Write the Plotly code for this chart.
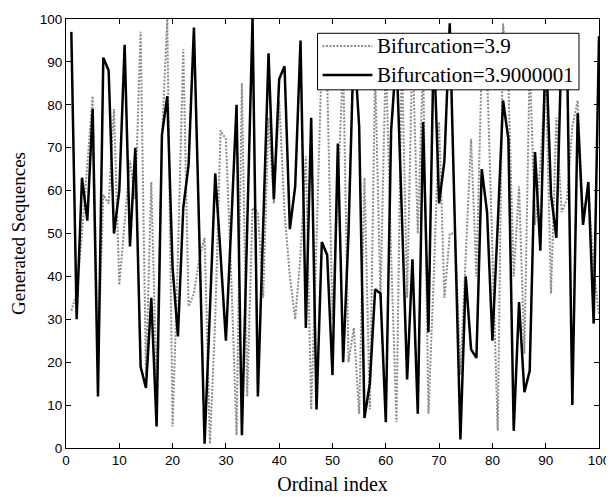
import plotly.graph_objects as go

ordinal = list(range(1, 101))

seq_39 = [32, 36, 50, 66, 82, 20, 59, 57, 79, 38,
          52, 67, 58, 97, 17, 62, 14, 72, 100, 5,
          45, 93, 33, 36, 44, 49, 1, 30, 74, 72,
          40, 3, 85, 12, 56, 55, 35, 77, 57, 81,
          55, 40, 30, 45, 68, 9, 48, 92, 86, 30,
          60, 90, 20, 28, 8, 63, 9, 88, 35, 92,
          45, 6, 92, 35, 94, 50, 90, 8, 40, 76,
          35, 50, 50, 17, 45, 72, 40, 90, 88, 45,
          4, 99, 85, 40, 61, 22, 90, 52, 66, 88,
          36, 77, 55, 58, 75, 81, 54, 60, 42, 31]

seq_39000001 = [97, 30, 63, 53, 79, 12, 91, 88, 50, 60,
                94, 47, 70, 19, 14, 35, 5, 73, 82, 42,
                26, 56, 66, 98, 50, 1, 32, 64, 45, 25,
                52, 80, 3, 50, 100, 12, 52, 92, 58, 86,
                89, 51, 61, 95, 28, 77, 9, 48, 45, 17,
                71, 20, 50, 95, 75, 7, 15, 37, 36, 6,
                74, 92, 55, 16, 44, 8, 76, 27, 95, 57,
                67, 99, 50, 2, 40, 23, 21, 65, 55, 25,
                52, 81, 72, 4, 34, 13, 18, 69, 46, 95,
                59, 49, 95, 92, 10, 78, 52, 62, 29, 96]

series_names = ["Bifurcation=3.9", "Bifurcation=3.9000001"]
x_ticks = [0, 10, 20, 30, 40, 50, 60, 70, 80, 90, 100]
y_ticks = [0, 10, 20, 30, 40, 50, 60, 70, 80, 90, 100]

gray_line = dict(color="#8c8c8c", width=2, dash="2px,1.5px")
black_line = dict(color="black", width=2.5)

fig = go.Figure()
fig.add_trace(go.Scatter(x=ordinal, y=seq_39, mode="lines", name=series_names[0], line=gray_line))
fig.add_trace(go.Scatter(x=ordinal, y=seq_39000001, mode="lines", name=series_names[1], line=black_line))

axis_common = dict(showline=True, linecolor="black", linewidth=1, mirror="ticks",
                   ticks="inside", ticklen=5, tickcolor="black", showgrid=False, zeroline=False,
                   automargin=True, ticklabeloverflow="allow",
                   tickfont=dict(family="Liberation Sans, Arial", size=13.5, color="black"))

# legend box drawn in paper coordinates (MATLAB-style boxed legend)
lx0, lx1, ly0, ly1 = 0.4719, 0.9625, 0.8349, 0.9667
row_y = [0.9369, 0.8693]
sx0, sx1, tx = 0.4813, 0.5749, 0.5805

shapes = [dict(type="rect", xref="paper", yref="paper", x0=lx0, x1=lx1, y0=ly0, y1=ly1,
               fillcolor="white", line=dict(color="black", width=1), layer="above")]
annotations = []
for name, ln, ry in zip(series_names, [gray_line, black_line], row_y):
    shapes.append(dict(type="line", xref="paper", yref="paper", x0=sx0, x1=sx1, y0=ry, y1=ry,
                       line=ln, layer="above"))
    annotations.append(dict(xref="paper", yref="paper", x=tx, y=ry, text=name, showarrow=False,
                            xanchor="left", yanchor="middle",
                            font=dict(family="Liberation Serif, Times New Roman", size=21, color="black")))

fig.update_layout(
    width=606, height=489,
    margin=dict(l=58, r=14, t=4, b=49),
    paper_bgcolor="white", plot_bgcolor="white",
    xaxis=dict(range=[0, 100], tickvals=x_ticks,
               title=dict(text="Ordinal index", standoff=9,
                          font=dict(family="Liberation Serif, Times New Roman", size=20, color="black")),
               **axis_common),
    yaxis=dict(range=[0, 100], tickvals=y_ticks,
               title=dict(text="Generated Sequences", standoff=12,
                          font=dict(family="Liberation Serif, Times New Roman", size=19, color="black")),
               **axis_common),
    shapes=shapes,
    annotations=annotations,
    showlegend=False,
)

fig.write_html("out.html")
